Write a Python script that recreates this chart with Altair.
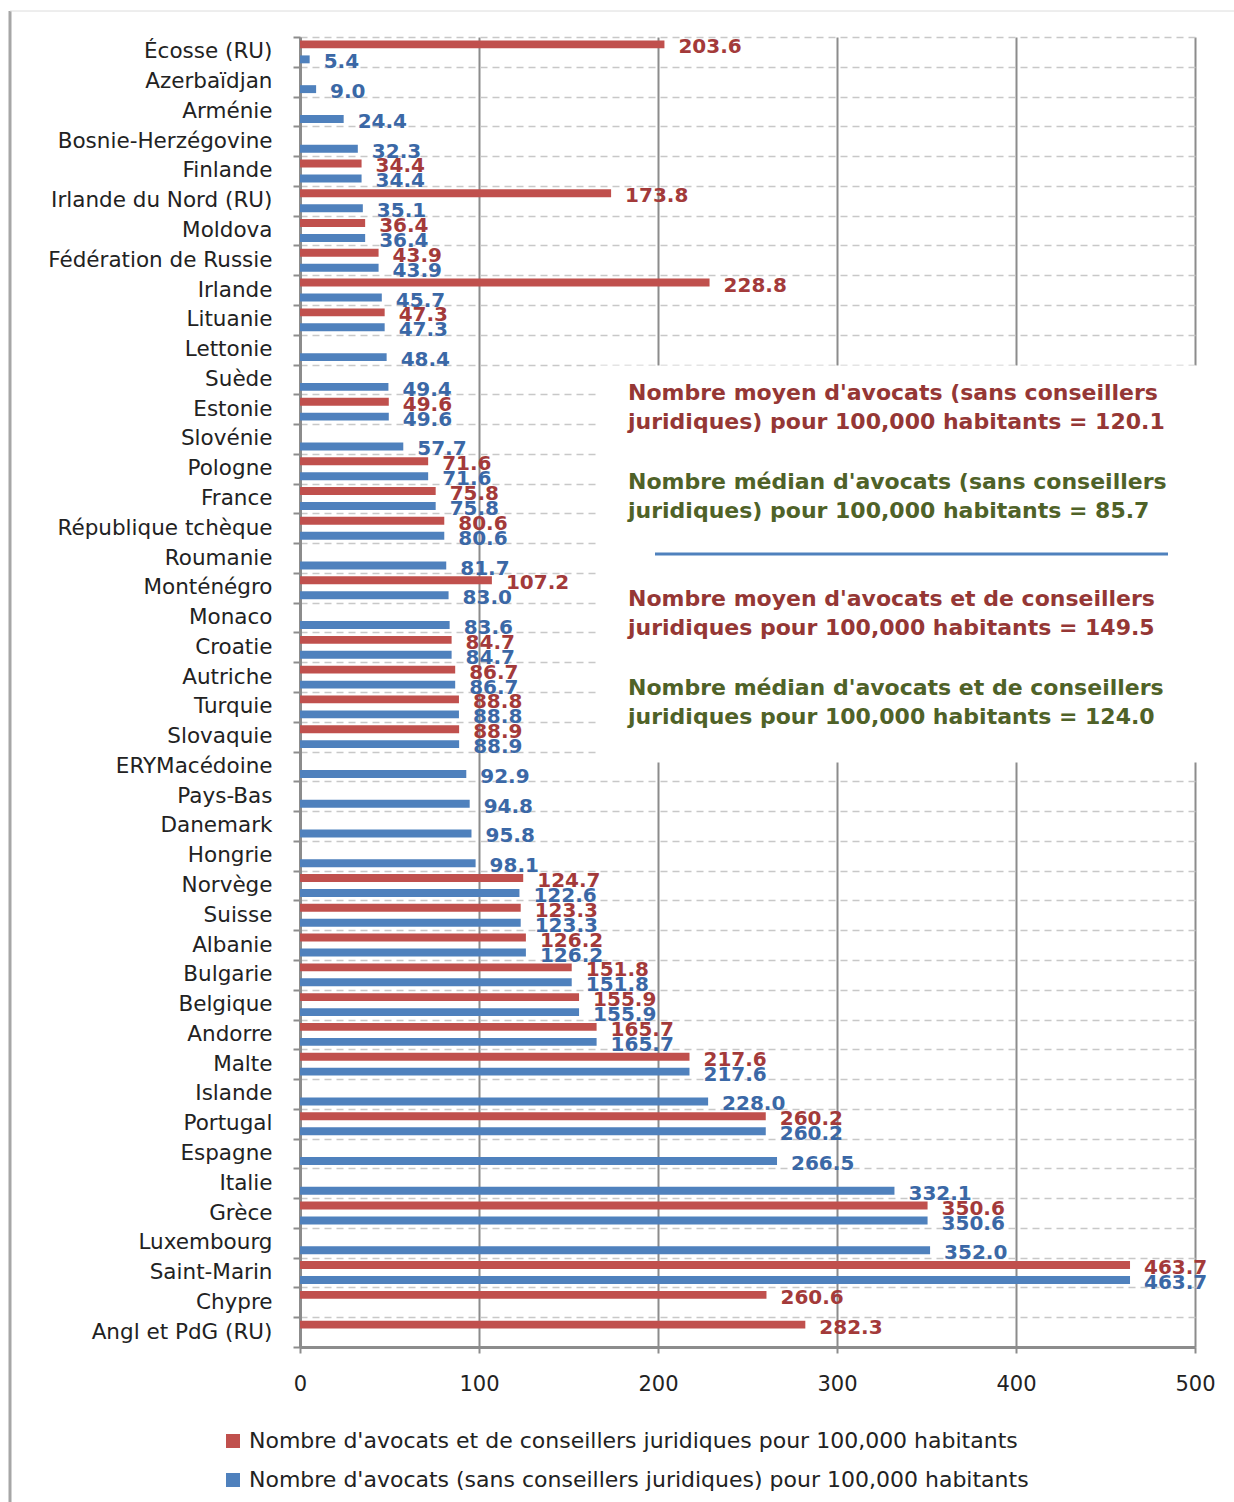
import altair as alt
import pandas as pd

countries = ["Écosse (RU)", "Azerbaïdjan", "Arménie", "Bosnie-Herzégovine", "Finlande",
             "Irlande du Nord (RU)", "Moldova", "Fédération de Russie", "Irlande", "Lituanie",
             "Lettonie", "Suède", "Estonie", "Slovénie", "Pologne", "France", "République tchèque",
             "Roumanie", "Monténégro", "Monaco", "Croatie", "Autriche", "Turquie", "Slovaquie",
             "ERYMacédoine", "Pays-Bas", "Danemark", "Hongrie", "Norvège", "Suisse", "Albanie",
             "Bulgarie", "Belgique", "Andorre", "Malte", "Islande", "Portugal", "Espagne", "Italie",
             "Grèce", "Luxembourg", "Saint-Marin", "Chypre", "Angl et PdG (RU)"]

with_advisers = [203.6, None, None, None, 34.4, 173.8, 36.4, 43.9, 228.8, 47.3,
                 None, None, 49.6, None, 71.6, 75.8, 80.6, None, 107.2, None,
                 84.7, 86.7, 88.8, 88.9, None, None, None, None, 124.7, 123.3,
                 126.2, 151.8, 155.9, 165.7, 217.6, None, 260.2, None, None, 350.6,
                 None, 463.7, 260.6, 282.3]

lawyers_only = [5.4, 9.0, 24.4, 32.3, 34.4, 35.1, 36.4, 43.9, 45.7, 47.3,
                48.4, 49.4, 49.6, 57.7, 71.6, 75.8, 80.6, 81.7, 83.0, 83.6,
                84.7, 86.7, 88.8, 88.9, 92.9, 94.8, 95.8, 98.1, 122.6, 123.3,
                126.2, 151.8, 155.9, 165.7, 217.6, 228.0, 260.2, 266.5, 332.1, 350.6,
                352.0, 463.7, None, None]

S1 = "Nombre d'avocats et de conseillers juridiques pour 100,000 habitants"
S2 = "Nombre d'avocats (sans conseillers juridiques) pour 100,000 habitants"
series_names = [S1, S2]
x_ticks = [0, 100, 200, 300, 400, 500]

notes = [
    ("Nombre moyen d'avocats (sans conseillers\njuridiques) pour 100,000 habitants = 120.1", "#953735"),
    ("Nombre médian d'avocats (sans conseillers\njuridiques) pour 100,000 habitants = 85.7", "#4F6228"),
    ("Nombre moyen d'avocats et de conseillers\njuridiques pour 100,000 habitants = 149.5", "#953735"),
    ("Nombre médian d'avocats et de conseillers\njuridiques pour 100,000 habitants = 124.0", "#4F6228"),
]

rows = []
for c, a, b in zip(countries, with_advisers, lawyers_only):
    if a is not None:
        rows.append({"pays": c, "serie": S1, "valeur": a})
    if b is not None:
        rows.append({"pays": c, "serie": S2, "valeur": b})
df = pd.DataFrame(rows)

# layout
W, H = 895, 1310
PADL, PADT, PADR, PADB = 300, 37, 39, 155
step = H / len(countries)

RED, BLUE = "#C0504D", "#4F81BD"
RED_TXT, BLUE_TXT = "#A33A3A", "#3B68A6"
FONT = "DejaVu Sans"

y_enc = alt.Y("pays:N", sort=countries, title=None,
              scale=alt.Scale(paddingInner=0, paddingOuter=0),
              axis=alt.Axis(labelFont=FONT, labelFontSize=21.5, labelColor="#222222",
                            labelPadding=21, labelLimit=0, tickBand="extent", ticks=True,
                            tickSize=7, tickColor="#8c8c8c", tickWidth=2,
                            domainColor="#8c8c8c", domainWidth=3, grid=True,
                            gridDash=[7, 5], gridColor="#c8c8c8", gridWidth=1.5))
x_enc = alt.X("valeur:Q", title=None,
              scale=alt.Scale(domain=[0, 500], nice=False),
              axis=alt.Axis(values=x_ticks, labelFont=FONT, labelFontSize=21,
                            labelColor="#222222", labelPadding=20, labelFlush=False,
                            tickSize=6, tickColor="#8c8c8c", tickWidth=2,
                            domainColor="#8c8c8c", domainWidth=3, grid=True,
                            gridColor="#8c8c8c", gridWidth=2))
yoff_enc = alt.YOffset("serie:N", scale=alt.Scale(domain=series_names,
                                                  paddingInner=0.47, paddingOuter=0.23))

bars = alt.Chart(df).mark_bar().encode(
    x=x_enc, y=y_enc, yOffset=yoff_enc,
    color=alt.Color("serie:N", scale=alt.Scale(domain=series_names, range=[RED, BLUE]),
                    legend=alt.Legend(orient="none", legendX=-78, legendY=1393,
                                      direction="vertical", title=None, symbolType="square",
                                      symbolSize=196, symbolStrokeWidth=0, labelFont=FONT,
                                      labelFontSize=22, labelColor="#222222", rowPadding=17,
                                      labelOffset=5, labelLimit=0)),
)

labels = alt.Chart(df).mark_text(align="left", baseline="middle", dx=14, dy=3,
                                 font=FONT, fontWeight="bold", fontSize=20).encode(
    x=x_enc, y=y_enc, yOffset=yoff_enc,
    text=alt.Text("valeur:Q", format=".1f"),
    color=alt.condition(alt.datum.serie == S1, alt.value(RED_TXT), alt.value(BLUE_TXT)),
)

# white panel behind the annotation box
box = alt.Chart(pd.DataFrame({"k": [0]})).mark_rect(color="white").encode(
    x=alt.value(300), x2=alt.value(W + 6),
    y=alt.value(11 * step + 1), y2=alt.value(24 * step + 11),
)

note_layers = []
note_y = [356, 445, 562, 651]
for (txt, col), yy in zip(notes, note_y):
    note_layers.append(
        alt.Chart(pd.DataFrame({"t": [txt]})).mark_text(
            align="left", baseline="middle", font=FONT, fontWeight="bold", fontSize=22,
            lineBreak="\n", lineHeight=29, color=col).encode(
            x=alt.value(328), y=alt.value(yy), text="t:N")
    )

sep = alt.Chart(pd.DataFrame({"k": [0]})).mark_rule(color=BLUE, strokeWidth=3).encode(
    x=alt.value(355), x2=alt.value(868), y=alt.value(517))

border_left = alt.Chart(pd.DataFrame({"k": [0]})).mark_rule(color="#a6a6a6", strokeWidth=3).encode(
    x=alt.value(-290), y=alt.value(-26), y2=alt.value(1502 - PADT))
border_top = alt.Chart(pd.DataFrame({"k": [0]})).mark_rule(color="#dcdcdc", strokeWidth=1).encode(
    x=alt.value(-290), x2=alt.value(1234 - PADL), y=alt.value(-26))

chart = alt.layer(box, bars, labels, *note_layers, sep, border_left, border_top).properties(
    width=W, height=H,
    autosize=alt.AutoSizeParams(type="none"),
    padding={"left": PADL, "top": PADT, "right": PADR, "bottom": PADB},
    background="white",
).configure_view(stroke=None)

chart.save("out.html", embed_options={"renderer": "svg", "actions": False})
